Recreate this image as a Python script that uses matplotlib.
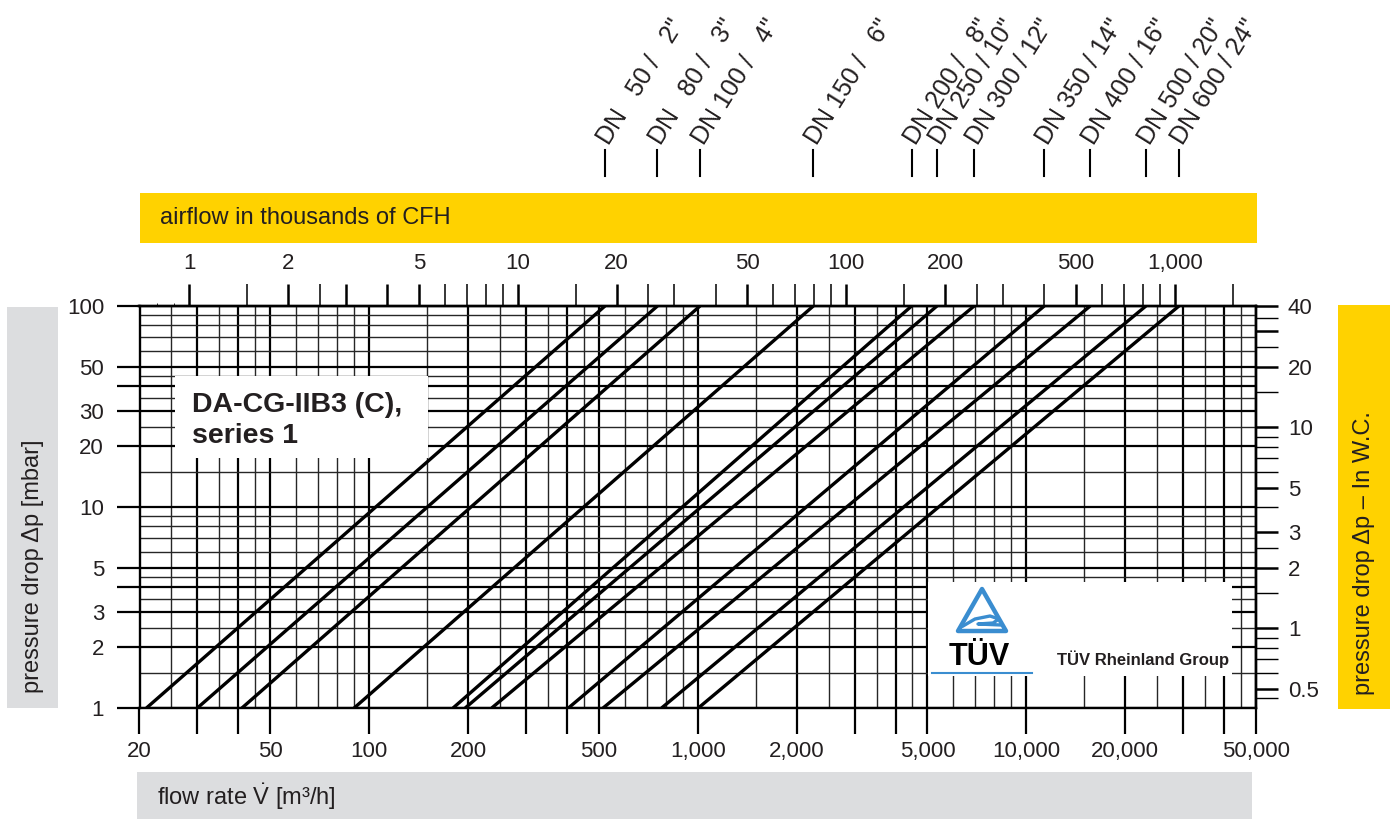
import matplotlib
matplotlib.use("Agg")
import matplotlib.pyplot as plt
from matplotlib import transforms
from matplotlib.patches import Rectangle, Polygon
from matplotlib.lines import Line2D
from matplotlib.ticker import FixedLocator, FixedFormatter, NullFormatter

plt.rcParams['font.family'] = ['Liberation Sans', 'DejaVu Sans']
plt.rcParams['mathtext.fontset'] = 'custom'
plt.rcParams['mathtext.rm'] = 'Liberation Sans'
plt.rcParams['mathtext.it'] = 'Liberation Sans:italic'
plt.rcParams['mathtext.bf'] = 'Liberation Sans:bold'

# Nominal sizes of the flame arresters
dn_sizes = [50, 80, 100, 150, 200, 250, 300, 350, 400, 500, 600]
inch_sizes = [2, 3, 4, 6, 8, 10, 12, 14, 16, 20, 24]
# Flow rate in m³/h at 1 mbar and at 100 mbar pressure drop
flow_at_1mbar = [21, 30, 41, 90, 180, 196, 236, 404, 515, 776, 1004]
flow_at_100mbar = [522, 754, 1016, 2248, 4477, 5346, 6938, 11340, 15650, 23120, 29140]

# Flow axis (m³/h)
flow_ticks = [20, 30, 40, 50, 100, 200, 300, 400, 500, 1000, 2000, 3000, 4000,
              5000, 10000, 20000, 30000, 40000, 50000]
flow_tick_labels = ["20", "", "", "50", "100", "200", "", "", "500", "1,000", "2,000",
                    "", "", "5,000", "10,000", "20,000", "", "", "50,000"]
flow_minor = [25, 35, 45, 60, 70, 80, 90, 150, 250, 350, 450, 600, 700, 800, 900,
              1500, 2500, 3500, 4500, 6000, 7000, 8000, 9000, 15000, 25000, 35000, 45000]

# Pressure drop axis (mbar)
dp_ticks = [1, 2, 3, 4, 5, 10, 20, 30, 40, 50, 100]
dp_tick_labels = ["1", "2", "3", "", "5", "10", "20", "30", "", "50", "100"]
dp_minor = [1.5, 2.5, 3.5, 4.5, 6, 7, 8, 9, 15, 25, 35, 45, 60, 70, 80, 90]

# Airflow axis (thousands of CFH)
cfh_ticks = [0.7, 1, 1.5, 2, 2.5, 3, 4, 5, 6, 7, 8, 9, 10, 15, 20, 25, 30, 40, 50,
             60, 70, 80, 90, 100, 150, 200, 250, 300, 400, 500, 600, 700, 800, 900,
             1000, 1500]
cfh_labeled = {1: "1", 2: "2", 5: "5", 10: "10", 20: "20", 50: "50", 100: "100",
               200: "200", 500: "500", 1000: "1,000"}

# Pressure drop axis (inches water column)
inwc_ticks = [0.45, 0.5, 0.6, 0.7, 0.8, 0.9, 1, 1.5, 2, 2.5, 3, 4, 5, 6, 7, 8, 9,
              10, 15, 20, 25, 30, 35, 40]
inwc_labeled = {0.5: "0.5", 1: "1", 2: "2", 3: "3", 5: "5", 10: "10", 20: "20", 40: "40"}
inwc_thick = [0.5, 1, 2, 3, 5, 10, 20, 30, 40]

M3H_PER_KCFH = 28.3168
MBAR_PER_INWC = 2.4909

W, H = 1396, 819
INK = '#231f20'
YELLOW = '#ffd200'
GREY = '#dcdddf'
BLUE = '#3a8dd0'


def fx(px):
    return px / W


def fy(py):
    return 1 - py / H


fig = plt.figure(figsize=(W / 100, H / 100), dpi=100)
fig.patch.set_facecolor('white')

# Coloured label bands
for (x0, y0, x1, y1, c) in [(140, 193, 1257, 243, YELLOW),
                            (137, 772, 1252, 819, GREY),
                            (7, 307, 58, 708, GREY),
                            (1338, 305, 1390, 709, YELLOW)]:
    fig.add_artist(Rectangle((fx(x0), fy(y1)), fx(x1) - fx(x0), fy(y0) - fy(y1),
                             transform=fig.transFigure, facecolor=c, edgecolor='none',
                             zorder=0))

ax = fig.add_axes([fx(139.5), fy(708), fx(1256) - fx(139.5), fy(306) - fy(708)])
ax.set_xscale('log')
ax.set_yscale('log')
ax.set_xlim(20, 50000)
ax.set_ylim(1, 100)

ax.xaxis.set_major_locator(FixedLocator(flow_ticks))
ax.xaxis.set_major_formatter(FixedFormatter(flow_tick_labels))
ax.xaxis.set_minor_locator(FixedLocator(flow_minor))
ax.xaxis.set_minor_formatter(NullFormatter())
ax.yaxis.set_major_locator(FixedLocator(dp_ticks))
ax.yaxis.set_major_formatter(FixedFormatter(dp_tick_labels))
ax.yaxis.set_minor_locator(FixedLocator(dp_minor))
ax.yaxis.set_minor_formatter(NullFormatter())

ax.tick_params(axis='x', which='major', direction='out', length=19, width=1.6,
               labelsize=16, pad=5, colors='black', labelcolor=INK)
ax.tick_params(axis='y', which='major', direction='out', length=16.5, width=1.6,
               labelsize=16, pad=9, colors='black', labelcolor=INK)
ax.tick_params(which='minor', length=0)

ax.grid(which='major', color='black', lw=1.6)
ax.grid(which='minor', color='#262626', lw=1.0)
for s in ax.spines.values():
    s.set_linewidth(1.7)

# Pressure drop curves, straight in log-log coordinates
for q1, q100 in zip(flow_at_1mbar, flow_at_100mbar):
    ax.plot([q1, q100], [1, 100], color='black', lw=2.4, solid_capstyle='butt', zorder=3)

# Secondary scales
secx = ax.secondary_xaxis('top', functions=(lambda q: q / M3H_PER_KCFH,
                                            lambda c: c * M3H_PER_KCFH))
secx.set_xticks(cfh_ticks, [cfh_labeled.get(v, "") for v in cfh_ticks])
secx.tick_params(direction='out', length=16, width=1.2, labelsize=16, pad=7,
                 colors='black', labelcolor=INK)
secx.spines['top'].set_linewidth(1.7)
for t, v in zip(secx.xaxis.get_major_ticks(), cfh_ticks):
    w = 1.8 if v in cfh_labeled or v in (3, 4) else 1.1
    t.tick1line.set_markeredgewidth(w)
    t.tick2line.set_markeredgewidth(w)

secy = ax.secondary_yaxis('right', functions=(lambda p: p / MBAR_PER_INWC,
                                              lambda i: i * MBAR_PER_INWC))
secy.set_yticks(inwc_ticks, [inwc_labeled.get(v, "") for v in inwc_ticks])
secy.tick_params(direction='out', length=16, width=1.1, labelsize=16, pad=7,
                 colors='black', labelcolor=INK)
secy.spines['right'].set_linewidth(1.7)
for t, v in zip(secy.yaxis.get_major_ticks(), inwc_ticks):
    w = 1.8 if v in inwc_thick else 1.0
    t.tick1line.set_markeredgewidth(w)
    t.tick2line.set_markeredgewidth(w)

# Nominal size markers above the chart, at each curve's 100 mbar flow
blend = transforms.blended_transform_factory(ax.transData, fig.transFigure)
for dn, inch, q in zip(dn_sizes, inch_sizes, flow_at_100mbar):
    ax.plot([q, q], [fy(150), fy(176)], transform=blend, color='black', lw=1.5,
            clip_on=False)
    dn_s = str(dn) if dn >= 100 else "  " + str(dn)
    in_s = str(inch) if inch >= 10 else "  " + str(inch)
    ax.annotate(f'DN {dn_s} / {in_s}"', xy=(q, fy(146)), xycoords=blend,
                xytext=(4, 0), textcoords='offset pixels', rotation=58,
                rotation_mode='anchor', ha='left', va='baseline', fontsize=18,
                color=INK, annotation_clip=False)

# Axis captions
fig.text(fx(160), fy(218), 'airflow in thousands of CFH', fontsize=17, color=INK,
         va='center', ha='left')
fig.text(fx(157), fy(797), r'flow rate $\dot{\mathrm{V}}$ [m³/h]', fontsize=17,
         color=INK, va='center', ha='left')
fig.text(fx(33), fy(693), 'pressure drop Δp [mbar]', fontsize=17, color=INK,
         rotation=90, rotation_mode='anchor', ha='left', va='center')
fig.text(fx(1364), fy(695), 'pressure drop Δp – In W.C.', fontsize=17, color=INK,
         rotation=90, rotation_mode='anchor', ha='left', va='center')

# Product caption box
fig.add_artist(Rectangle((fx(175), fy(458)), fx(428) - fx(175), fy(376) - fy(458),
                         transform=fig.transFigure, facecolor='white',
                         edgecolor='none', zorder=5))
fig.text(fx(192), fy(412), 'DA-CG-IIB3 (C),', fontsize=20.5, fontweight='bold',
         color=INK, va='baseline', ha='left', zorder=6)
fig.text(fx(192), fy(443), 'series 1', fontsize=20.5, fontweight='bold',
         color=INK, va='baseline', ha='left', zorder=6)

# Certification box with the triangle emblem
fig.add_artist(Rectangle((fx(928), fy(676)), fx(1232) - fx(928), fy(582) - fy(676),
                         transform=fig.transFigure, facecolor='white',
                         edgecolor='none', zorder=5))
tri = [(fx(982), fy(589)), (fx(958), fy(631)), (fx(1006), fy(631))]
fig.add_artist(Polygon(tri, closed=True, transform=fig.transFigure, facecolor='none',
                       edgecolor=BLUE, lw=3.2, joinstyle='round', zorder=6))
swoosh = [(963, 626), (975, 619), (990, 616), (999, 619), (993, 623), (978, 624),
          (1001, 625)]
fig.add_artist(Line2D([fx(p[0]) for p in swoosh], [fy(p[1]) for p in swoosh],
                      transform=fig.transFigure, color=BLUE, lw=2.4, zorder=6,
                      solid_joinstyle='round'))
fig.text(fx(949), fy(665), 'TÜV', fontsize=22, fontweight='bold', color='black',
         va='baseline', ha='left', zorder=6)
fig.add_artist(Line2D([fx(932), fx(1032)], [fy(673), fy(673)], transform=fig.transFigure,
                      color=BLUE, lw=1.5, zorder=6))
fig.text(fx(1057), fy(665), 'TÜV Rheinland Group', fontsize=12, fontweight='bold',
         color=INK, va='baseline', ha='left', zorder=6)

fig.savefig('out.png', dpi=100)
